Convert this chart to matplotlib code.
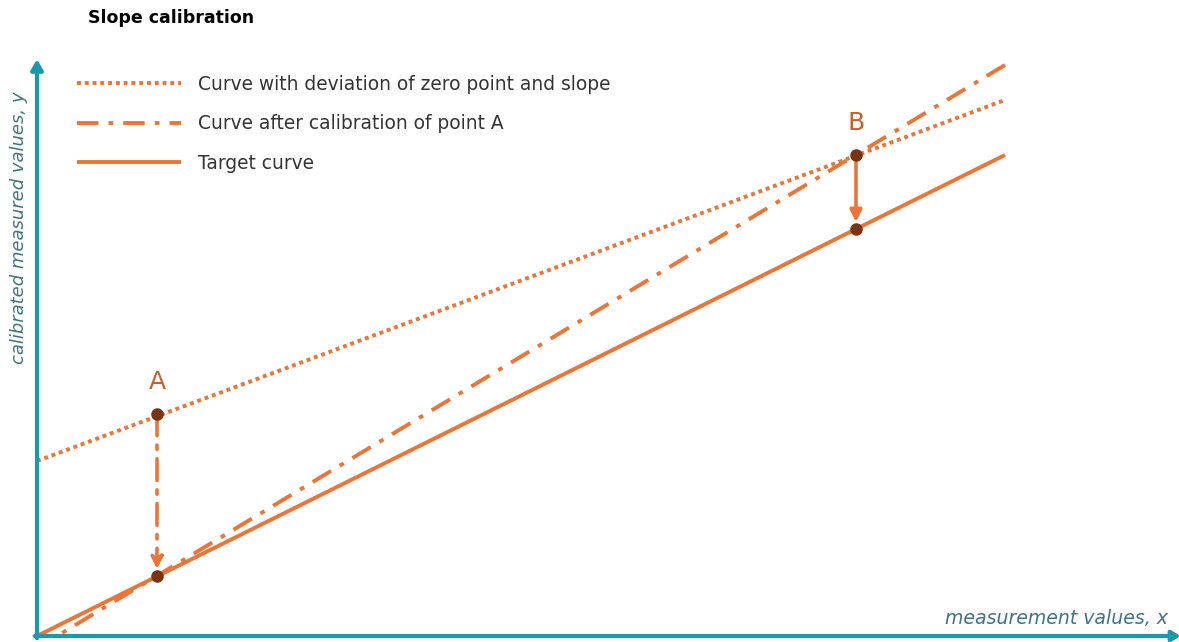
import matplotlib
matplotlib.use('Agg')
import matplotlib.pyplot as plt

# data (measurement units)
x_line = [0, 9.68]
y_target = [0, 4.81]
y_deviation = [1.75, 5.36]
x_calib = [9.68, 0.2]
y_calib = [5.71, 0]

x_A = 1.2
y_A_top = 2.22
y_A_bot = 0.60
x_B = 8.19
y_B_top = 4.81
y_B_bot = 4.07

labels = ['Curve with deviation of zero point and slope',
          'Curve after calibration of point A',
          'Target curve']

orange = '#EC7536'
brown = '#7A3510'
teal = '#1799AE'
axis_text = '#3E7485'
letter = '#C9602A'

plt.rcParams['font.family'] = ['DejaVu Sans']

fig = plt.figure(figsize=(11.79, 6.42), dpi=100)
ax = fig.add_axes([37 / 1179, 6 / 642, 1138 / 1179, 571 / 642])
ax.set_xlim(0, 11.38)
ax.set_ylim(0, 5.71)
ax.axis('off')

ax.plot(x_line, y_deviation, color=orange, lw=2.8, linestyle=(0, (1.0, 1.0)),
        label=labels[0], clip_on=False, dash_capstyle='butt')
ax.plot(x_calib, y_calib, color=orange, lw=2.8, linestyle=(0, (5.5, 2.6, 1.2, 2.6)),
        label=labels[1], clip_on=False, dash_capstyle='butt')
ax.plot(x_line, y_target, color=orange, lw=2.8, label=labels[2], clip_on=False,
        solid_capstyle='butt')

# correction arrows
ax.annotate('', xy=(x_A, y_A_bot), xytext=(x_A, y_A_top),
            arrowprops=dict(arrowstyle='-|>,head_length=0.7,head_width=0.35', color=orange,
                            lw=2.6, linestyle=(0, (6, 2.6, 1.2, 2.6)), shrinkA=0, shrinkB=5))
ax.annotate('', xy=(x_B, y_B_bot), xytext=(x_B, y_B_top),
            arrowprops=dict(arrowstyle='-|>,head_length=0.7,head_width=0.35', color=orange,
                            lw=2.6, shrinkA=0, shrinkB=5))

ax.plot([x_A, x_A, x_B, x_B], [y_A_top, y_A_bot, y_B_top, y_B_bot], 'o',
        color=brown, ms=8, zorder=5)
ax.text(x_A, y_A_top + 0.2, 'A', color=letter, fontsize=18, ha='center', va='bottom')
ax.text(x_B, y_B_top + 0.2, 'B', color=letter, fontsize=18, ha='center', va='bottom')

# axes arrows
ax.annotate('', xy=(1.005, 0), xytext=(-0.002, 0), xycoords='axes fraction',
            arrowprops=dict(arrowstyle='-|>,head_length=0.5,head_width=0.3', color=teal,
                            lw=3, shrinkA=0, shrinkB=0), annotation_clip=False)
ax.annotate('', xy=(0, 1.01), xytext=(0, -0.004), xycoords='axes fraction',
            arrowprops=dict(arrowstyle='-|>,head_length=0.6,head_width=0.35', color=teal,
                            lw=3, shrinkA=0, shrinkB=0), annotation_clip=False)

fig.text(1168 / 1179, 1 - 619 / 642, 'measurement values, x', color=axis_text,
         fontsize=13.6, style='italic', ha='right', va='center')
fig.text(19 / 1179, 1 - 228 / 642, 'calibrated measured values, y', color=axis_text,
         fontsize=13, style='italic', rotation=90, ha='center', va='center')

fig.text(88 / 1179, 1 - 18 / 642, 'Slope calibration', fontsize=12.5,
         fontweight='bold', color='black', va='center')

ax.legend(loc='upper left', bbox_to_anchor=(77 / 1179, 1 - 75 / 642),
          bbox_transform=fig.transFigure, frameon=False, fontsize=13.4,
          handlelength=5.6, handletextpad=0.9, labelspacing=1.1,
          borderpad=0, borderaxespad=0, labelcolor='#333333')

fig.savefig('out.png', dpi=100)
